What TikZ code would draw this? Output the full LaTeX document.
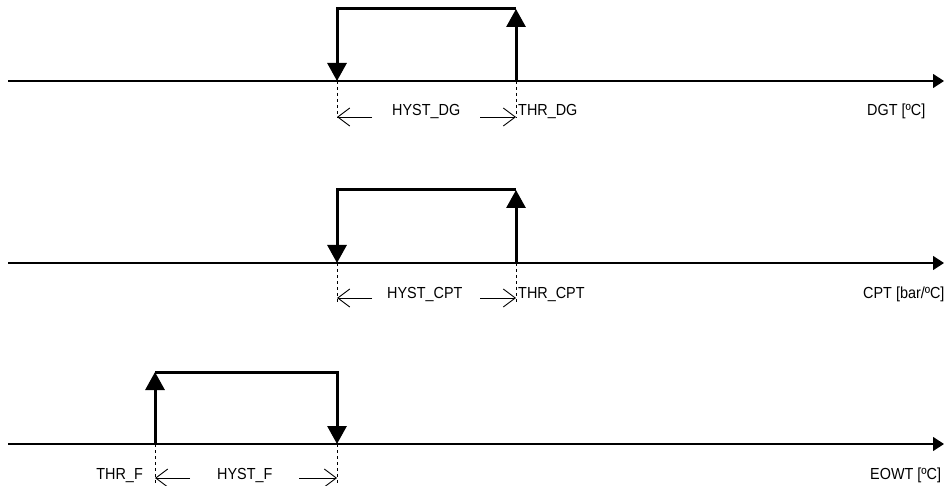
\documentclass[tikz,border=0pt]{standalone}
\usepackage{fontspec}
\setmainfont{Liberation Sans}[FakeStretch=0.9]
\usetikzlibrary{arrows.meta}
\begin{document}
\begin{tikzpicture}[x=1pt,y=-1pt,
  axis/.style={line width=1.2pt,-{Triangle[length=11pt,width=14pt]}},
  switch/.style={line width=3pt,-{Triangle[length=18pt,width=19pt]}},
  guide/.style={line width=0.8pt,dash pattern=on 3pt off 3pt},
  dimarrow/.style={line width=0.9pt,-{Straight Barb[length=12pt,width=18pt]}},
  lbl/.style={inner sep=0pt,font=\fontsize{16pt}{18pt}\selectfont},
]
\useasboundingbox (0,0) rectangle (944,486);

% ---------- panel 1 ----------
\coordinate (a1s) at (8,81);
\coordinate (a1e) at (944,81);
\coordinate (p1L) at (337,81);
\coordinate (p1R) at (516,81);
\coordinate (p1LT) at (337,9);
\coordinate (p1RT) at (516,9);
\coordinate (d1L) at (337,118);
\coordinate (d1R) at (516,118);
\coordinate (h1L) at (372,117);
\coordinate (h1R) at (480,117);
\coordinate (e1L) at (337,117);
\coordinate (e1R) at (516,117);
\draw[axis] (a1s) -- (a1e);
\draw[switch] (p1R) -- (p1RT);
\draw[switch] (p1RT) -- (p1LT) -- (p1L);
\draw[guide] (p1L) -- (d1L);
\draw[guide] (p1R) -- (d1R);
\draw[dimarrow] (h1L) -- (e1L);
\draw[dimarrow] (h1R) -- (e1R);
\node[lbl,anchor=base west] (hyst1) at (392,116) {HYST\_DG};
\node[lbl,anchor=base west] (thr1) at (518,116) {THR\_DG};
\node[lbl,anchor=base west] (ax1) at (867,116) {DGT [ºC]};

% ---------- panel 2 ----------
\coordinate (a2s) at (8,263);
\coordinate (a2e) at (944,263);
\coordinate (p2L) at (337,263);
\coordinate (p2R) at (516,263);
\coordinate (p2LT) at (337,190);
\coordinate (p2RT) at (516,190);
\coordinate (d2L) at (337,303);
\coordinate (d2R) at (516,303);
\coordinate (h2L) at (372,298);
\coordinate (h2R) at (480,298);
\coordinate (e2L) at (337,298);
\coordinate (e2R) at (516,298);
\draw[axis] (a2s) -- (a2e);
\draw[switch] (p2R) -- (p2RT);
\draw[switch] (p2RT) -- (p2LT) -- (p2L);
\draw[guide] (p2L) -- (d2L);
\draw[guide] (p2R) -- (d2R);
\draw[dimarrow] (h2L) -- (e2L);
\draw[dimarrow] (h2R) -- (e2R);
\node[lbl,anchor=base west] (hyst2) at (387,298) {HYST\_CPT};
\node[lbl,anchor=base west] (thr2) at (518,298) {THR\_CPT};
\node[lbl,anchor=base west] (ax2) at (863,298) {CPT [bar/ºC]};

% ---------- panel 3 ----------
\coordinate (a3s) at (8,444);
\coordinate (a3e) at (944,444);
\coordinate (p3L) at (155,444);
\coordinate (p3R) at (337,444);
\coordinate (p3LT) at (155,372);
\coordinate (p3RT) at (337,372);
\coordinate (d3L) at (155,484);
\coordinate (d3R) at (337,484);
\coordinate (h3L) at (190,478);
\coordinate (h3R) at (299,478);
\coordinate (e3L) at (155,478);
\coordinate (e3R) at (337,478);
\draw[axis] (a3s) -- (a3e);
\draw[switch] (p3L) -- (p3LT);
\draw[switch] (p3LT) -- (p3RT) -- (p3R);
\draw[guide] (p3L) -- (d3L);
\draw[guide] (p3R) -- (d3R);
\draw[dimarrow] (h3L) -- (e3L);
\draw[dimarrow] (h3R) -- (e3R);
\node[lbl,anchor=base west] (hyst3) at (217,479) {HYST\_F};
\node[lbl,anchor=base east] (thr3) at (143,479) {THR\_F};
\node[lbl,anchor=base west] (ax3) at (870,479) {EOWT [ºC]};
\end{tikzpicture}
\end{document}
